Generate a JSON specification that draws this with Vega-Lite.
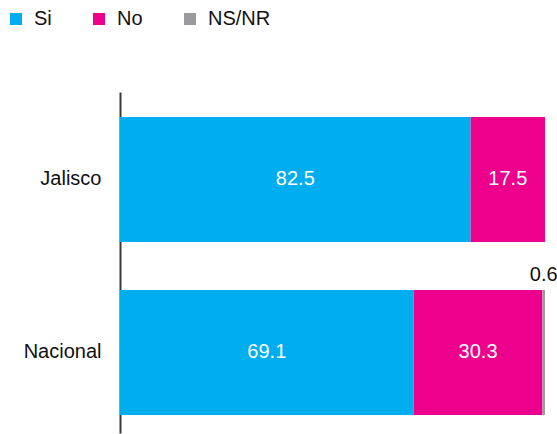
{
  "$schema": "https://vega.github.io/schema/vega-lite/v6.json",
  "width": 425,
  "height": 341,
  "autosize": {"type": "none"},
  "padding": {"left": 120, "top": 92, "right": 12, "bottom": 1},
  "background": "white",
  "config": {
    "view": {"stroke": null},
    "font": "Liberation Sans"
  },
  "data": {
    "values": [
      {"region": "Jalisco", "cat": "Si", "ord": 1, "value": 82.5},
      {"region": "Jalisco", "cat": "No", "ord": 2, "value": 17.5},
      {"region": "Nacional", "cat": "Si", "ord": 1, "value": 69.1},
      {"region": "Nacional", "cat": "No", "ord": 2, "value": 30.3},
      {"region": "Nacional", "cat": "NS/NR", "ord": 3, "value": 0.6}
    ]
  },
  "encoding": {
    "y": {
      "field": "region",
      "type": "nominal",
      "sort": ["Jalisco", "Nacional"],
      "scale": {"paddingInner": 0.2775, "paddingOuter": 0.124, "align": 0.58},
      "axis": {
        "title": null,
        "ticks": false,
        "tickSize": 0,
        "labelPadding": 19,
        "labelFontSize": 20,
        "labelColor": "#111111",
        "labelFont": "Liberation Sans",
        "domainColor": "#3a3a3a",
        "domainWidth": 2
      }
    }
  },
  "layer": [
    {
      "mark": {"type": "bar"},
      "encoding": {
        "x": {
          "field": "value",
          "type": "quantitative",
          "stack": "zero",
          "scale": {"domain": [0, 100], "nice": false},
          "axis": null
        },
        "color": {
          "field": "cat",
          "type": "nominal",
          "scale": {"domain": ["Si", "No", "NS/NR"], "range": ["#00AEEF", "#EC008C", "#9B9B9D"]},
          "legend": {
            "title": null,
            "orient": "none",
            "direction": "horizontal",
            "columns": 3,
            "legendX": -114,
            "legendY": -83,
            "symbolType": "square",
            "symbolSize": 144,
            "symbolStrokeWidth": 0,
            "labelFontSize": 20,
            "labelFont": "Liberation Sans",
            "labelColor": "#111111",
            "labelOffset": 8,
            "columnPadding": 37,
            "padding": 0
          }
        },
        "order": {"field": "ord", "type": "quantitative"}
      }
    },
    {
      "mark": {"type": "text", "color": "white", "fontSize": 20, "baseline": "middle", "align": "center"},
      "encoding": {
        "x": {"field": "value", "type": "quantitative", "stack": "zero", "bandPosition": 0.5},
        "detail": {"field": "cat"},
        "order": {"field": "ord", "type": "quantitative"},
        "text": {
          "condition": {"test": "datum.cat != 'NS/NR'", "field": "value", "type": "quantitative", "format": ".1f"},
          "value": ""
        }
      }
    },
    {
      "mark": {"type": "text", "color": "#111111", "fontSize": 20, "baseline": "alphabetic", "align": "center", "dy": -9},
      "encoding": {
        "x": {"field": "value", "type": "quantitative", "stack": "zero", "bandPosition": 0.5},
        "y": {"field": "region", "type": "nominal", "sort": ["Jalisco", "Nacional"], "bandPosition": 0},
        "detail": {"field": "cat"},
        "order": {"field": "ord", "type": "quantitative"},
        "text": {
          "condition": {"test": "datum.cat == 'NS/NR'", "field": "value", "type": "quantitative", "format": ".1f"},
          "value": ""
        }
      }
    }
  ]
}
